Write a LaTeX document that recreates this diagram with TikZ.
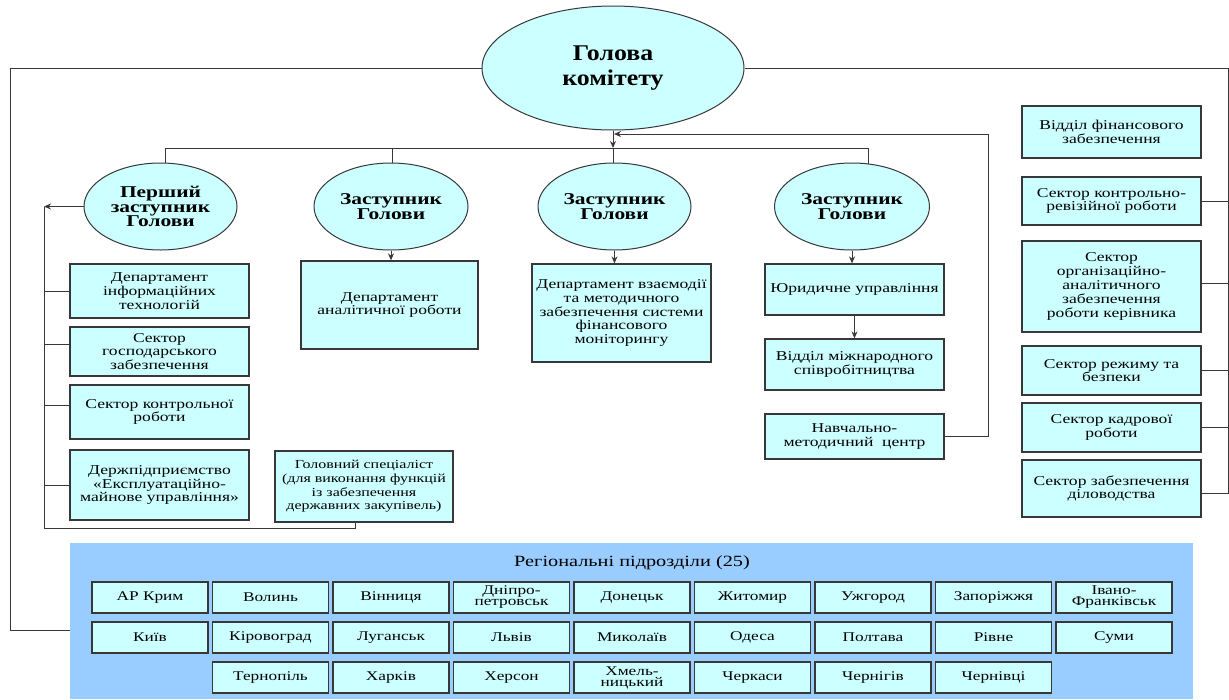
\documentclass[tikz,border=0pt]{standalone}
\usepackage{fontspec}
\setmainfont{Liberation Serif}[FakeStretch=1.3]
\newfontfamily\headfont{Liberation Serif}[FakeStretch=1.15]
\usetikzlibrary{shapes.geometric,backgrounds,arrows.meta}
\definecolor{cyanfill}{HTML}{CCFFFF}
\definecolor{regblue}{HTML}{99CCFF}
\definecolor{edge}{HTML}{383838}
\begin{document}
\begin{tikzpicture}[x=1pt,y=-1pt,
  orgbox/.style={draw=edge, line width=1.3pt, fill=cyanfill, align=center, inner sep=2pt,
    font=\fontsize{13.5}{13.8}\selectfont},
  oval/.style={ellipse, draw=edge, line width=1pt, fill=cyanfill, align=center, inner sep=0pt,
    font=\bfseries\fontsize{16.5}{14.8}\selectfont},
  regbox/.style={draw=edge, line width=1.8pt, fill=cyanfill, minimum width=116, minimum height=31,
    align=center, inner sep=1pt, font=\fontsize{13.3}{11}\selectfont},
  conn/.style={draw=edge, line width=1pt},
  arr/.style={conn, -{Stealth[length=7pt,width=6pt]}}]
\useasboundingbox (0,0) rectangle (1229,699);

% head and deputies
\node[oval, font=\headfont\bfseries\fontsize{22.5}{25}\selectfont, minimum width=262, minimum height=124] (head) at (613,68) {Голова\\комітету};
\node[oval, minimum width=153, minimum height=87] (d1) at (160.5,206.5) {Перший\\заступник\\Голови};
\node[oval, minimum width=154, minimum height=87] (d2) at (391,206.5) {Заступник\\Голови};
\node[oval, minimum width=153, minimum height=87] (d3) at (614.5,206.5) {Заступник\\Голови};
\node[oval, minimum width=155, minimum height=87] (d4) at (852,206.5) {Заступник\\Голови};

% left column
\node[orgbox, minimum width=179, minimum height=54] (dit) at (159.5,291) {Департамент\\інформаційних\\технологій};
\node[orgbox, minimum width=179, minimum height=49] (sgz) at (159.5,351.5) {Сектор\\господарського\\забезпечення};
\node[orgbox, minimum width=179, minimum height=54] (skr) at (159.5,412) {Сектор контрольної\\роботи};
\node[orgbox, minimum width=179, minimum height=70] (dp) at (159.5,485) {Держпідприємство\\«Експлуатаційно-\\майнове управління»};
\node[orgbox, minimum width=178, minimum height=71, font=\fontsize{12.3}{13.6}\selectfont] (gs) at (364,486.5) {Головний спеціаліст\\(для виконання функцій\\із забезпечення\\державних закупівель)};

% centre
\node[orgbox, minimum width=177, minimum height=88] (dar) at (389.5,305) {Департамент\\аналітичної роботи};
\node[orgbox, minimum width=179, minimum height=98] (dvz) at (621.5,313) {Департамент взаємодії\\та методичного\\забезпечення системи\\фінансового\\моніторингу};

% fourth column
\node[orgbox, minimum width=179, minimum height=51] (yur) at (854.5,289.5) {Юридичне управління};
\node[orgbox, minimum width=179, minimum height=51] (vms) at (854.5,364.5) {Відділ міжнародного\\співробітництва};
\node[orgbox, minimum width=179, minimum height=45] (nmc) at (854.5,436.5) {Навчально-\\методичний\ \ центр};

% right column
\node[orgbox, minimum width=179, minimum height=52] (vfz) at (1111.5,132) {Відділ фінансового\\забезпечення};
\node[orgbox, minimum width=179, minimum height=48] (skrr) at (1111.5,201) {Сектор контрольно-\\ревізійної роботи};
\node[orgbox, minimum width=179, minimum height=91] (soaz) at (1111.5,286.5) {Сектор\\організаційно-\\аналітичного\\забезпечення\\роботи керівника};
\node[orgbox, minimum width=179, minimum height=49] (srb) at (1111.5,370.5) {Сектор режиму та\\безпеки};
\node[orgbox, minimum width=179, minimum height=49] (skad) at (1111.5,427.5) {Сектор кадрової\\роботи};
\node[orgbox, minimum width=179, minimum height=57] (szd) at (1111.5,488.5) {Сектор забезпечення\\діловодства};

% regional block
\node[fill=regblue, anchor=north west, minimum width=1123, minimum height=156, inner sep=0pt] (reg) at (70,543) {};
\node[font=\fontsize{15.6}{16}\selectfont] (regt) at (632,563) {Регіональні підрозділи (25)};
\foreach \nm [count=\i from 0] in {АР Крим, Волинь, Вінниця, {Дніпро-\\петровськ}, Донецьк, Житомир, Ужгород, Запоріжжя, {Івано-\\Франківськ}}
  \node[regbox] (ra\i) at (150+120.5*\i,597.5) {\nm};
\foreach \nm [count=\i from 0] in {Київ, Кіровоград, Луганськ, Львів, Миколаїв, Одеса, Полтава, Рівне, Суми}
  \node[regbox] (rb\i) at (150+120.5*\i,637.5) {\nm};
\foreach \nm [count=\i from 1] in {Тернопіль, Харків, Херсон, {Хмель-\\ницький}, Черкаси, Чернігів, Чернівці}
  \node[regbox] (rc\i) at (150+120.5*\i,677.5) {\nm};

% helper coordinates
\coordinate (hub) at (613,148);
\coordinate (h1) at (165,148);
\coordinate (h2) at (392,148);
\coordinate (h4) at (868,148);
\coordinate (lft) at (44,206.5);
\coordinate (lbot) at (44,528);
\coordinate (gsj) at (355,528);
\coordinate (tl) at (10,66);
\coordinate (bl) at (10,630);
\coordinate (tr) at (1228,66);
\coordinate (br) at (1228,493);
\coordinate (rt) at (988,134);
\coordinate (tipc) at (614,134);
\coordinate (sgzw) at ([yshift=7.5pt]sgz.west);
\coordinate (skrw) at ([yshift=7pt]skr.west);
\coordinate (soaze) at ([yshift=3.5pt]soaz.east);

\begin{scope}[on background layer]
  \draw[arr] (head.south) -- (hub);
  \draw[conn] (h1) -- (h4);
  \draw[conn] (h1) -- (h1 |- d1.center);
  \draw[conn] (h2) -- (h2 |- d2.center);
  \draw[conn] (hub) -- (hub |- d3.center);
  \draw[conn] (h4) -- (h4 |- d4.center);
  % left
  \draw[arr] (d1.west) -- (lft);
  \draw[conn] (lft) -- (lbot) -- (gsj) -- (gsj |- gs.south);
  \draw[conn] (lft |- dit.west) -- (dit.west);
  \draw[conn] (lft |- sgzw) -- (sgzw);
  \draw[conn] (lft |- skrw) -- (skrw);
  \draw[conn] (lft |- dp.west) -- (dp.west);
  % outer left line
  \draw[conn] (head.west) -- (head.west -| tl) -- (bl) -- (bl -| reg.west);
  % outer right line
  \draw[conn] (head.east) -- (head.east -| tr) -- (br) -- (br -| szd.east);
  \draw[conn] (skrr.east) -- (skrr.east -| tr);
  \draw[conn] (soaze) -- (soaze -| tr);
  \draw[conn] (srb.east) -- (srb.east -| tr);
  \draw[conn] (skad.east) -- (skad.east -| tr);
  % centre arrows
  \draw[arr] (d2.south) -- (d2.south |- dar.north);
  \draw[arr] (d3.south) -- (d3.south |- dvz.north);
  \draw[arr] (d4.south) -- (d4.south |- yur.north);
  \draw[arr] (yur.south) -- (vms.north);
  \draw[arr] (nmc.east) -- (nmc.east -| rt) -- (rt) -- (tipc);
\end{scope}
\end{tikzpicture}
\end{document}
